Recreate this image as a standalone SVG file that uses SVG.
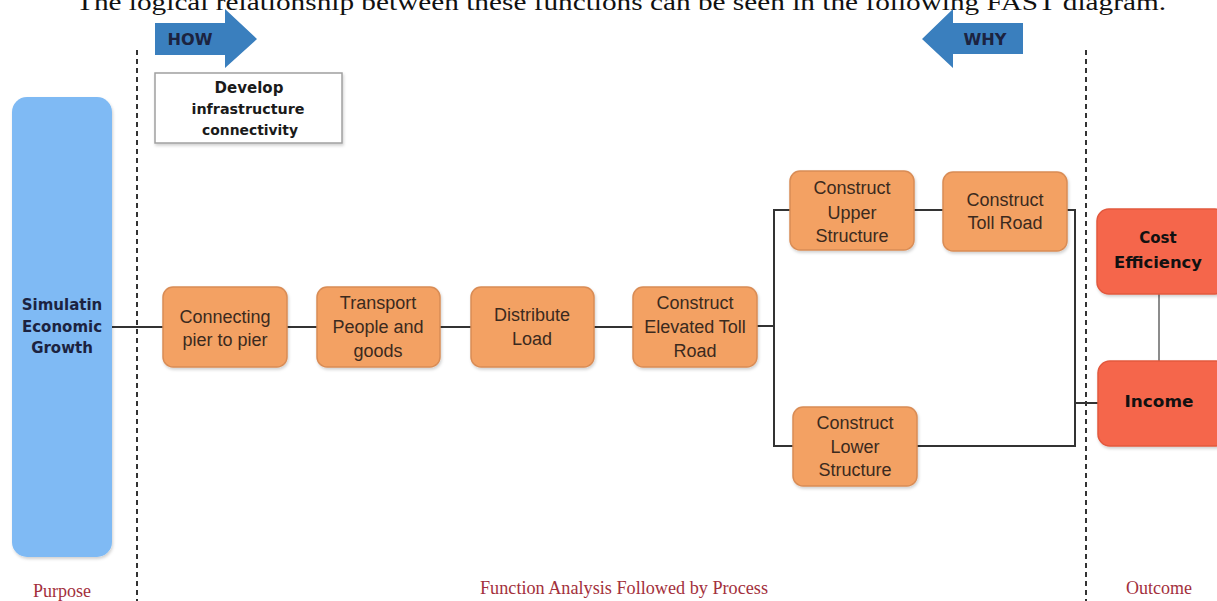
<svg xmlns="http://www.w3.org/2000/svg" width="1217" height="601" viewBox="0 0 1217 601">
  <style>
    .caption { font-family: "Liberation Serif", "Times New Roman", serif; fill: #111; font-size: 24px; }
    .zone { font-family: "Liberation Serif", "Times New Roman", serif; fill: #a3303c; font-size: 18px; text-anchor: middle; }
    .func rect { fill: #f3a163; stroke: #d98c55; stroke-width: 1.5; }
    .func text { font-family: "Liberation Sans", Arial, sans-serif; font-size: 18px; fill: #3b2a1e; text-anchor: middle; }
    .bold { font-family: "DejaVu Sans", "Noto Sans", sans-serif; font-weight: bold; text-anchor: middle; }
    .goal rect { fill: #f5664b; stroke: #e2583e; stroke-width: 1.5; }
    .goal text { fill: #111; font-size: 15px; }
    .wire { fill: none; stroke: #333; stroke-width: 2; }
    .divider { stroke: #333; stroke-width: 2; stroke-dasharray: 5 4; }
    .arrow { fill: #3a7fbe; }
  </style>
  <defs>
    <filter id="shadow" x="-10%" y="-10%" width="130%" height="130%">
      <feDropShadow dx="1" dy="2" stdDeviation="1.5" flood-color="#000" flood-opacity="0.18"/>
    </filter>
  </defs>

  <rect width="1217" height="601" fill="#fff"/>

  <!-- introductory sentence above the chart -->
  <text class="caption" x="76" y="10" textLength="1090" lengthAdjust="spacingAndGlyphs">The logical relationship between these functions can be seen in the following FAST diagram.</text>

  <!-- scope dividers -->
  <line class="divider" x1="137" y1="50" x2="137" y2="601"/>
  <line class="divider" x1="1086" y1="50" x2="1086" y2="601"/>

  <!-- direction arrows -->
  <g id="how-arrow">
    <polygon class="arrow" points="155,23 225,23 225,9 257,39 225,68 225,55 155,55"/>
    <text class="bold" x="190" y="45" font-size="16" fill="#1c2340" textLength="45" lengthAdjust="spacingAndGlyphs">HOW</text>
  </g>
  <g id="why-arrow">
    <polygon class="arrow" points="1023,23 953,23 953,9 922,39 953,68 953,54 1023,54"/>
    <text class="bold" x="985" y="45" font-size="16" fill="#1c2340" textLength="43" lengthAdjust="spacingAndGlyphs">WHY</text>
  </g>

  <!-- connectors -->
  <g id="connectors">
    <path class="wire" d="M112,327 H163"/>
    <path class="wire" d="M287,327 H317"/>
    <path class="wire" d="M440,327 H471"/>
    <path class="wire" d="M594,327 H633"/>
    <path class="wire" d="M757,326 H774"/>
    <path class="wire" d="M790,210 H774 V446 H793"/>
    <path class="wire" d="M914,210 H943"/>
    <path class="wire" d="M1067,210 H1075 V446 H917"/>
    <path class="wire" d="M1075,403 H1098"/>
    <path d="M1159,294 V361" fill="none" stroke="#666" stroke-width="1.5"/>
  </g>

  <!-- higher-order purpose -->
  <g id="purpose">
    <rect x="12" y="97" width="100" height="460" rx="15" fill="#7fbaf4" filter="url(#shadow)"/>
    <text class="bold" x="62" y="310" font-size="15" fill="#1c2340">Simulatin</text>
    <text class="bold" x="62" y="332" font-size="15" fill="#1c2340">Economic</text>
    <text class="bold" x="62" y="353" font-size="15" fill="#1c2340">Growth</text>
  </g>

  <!-- basic function -->
  <g id="basic-function">
    <rect x="155" y="73" width="187" height="70" fill="#fff" stroke="#a0a0a0" stroke-width="1.5" filter="url(#shadow)"/>
    <text class="bold" x="249" y="93" font-size="15" fill="#1a1a1a">Develop</text>
    <text class="bold" x="248" y="114" font-size="14.5" fill="#1a1a1a" textLength="113" lengthAdjust="spacingAndGlyphs">infrastructure</text>
    <text class="bold" x="250" y="135" font-size="14.5" fill="#1a1a1a" textLength="96" lengthAdjust="spacingAndGlyphs">connectivity</text>
  </g>

  <!-- function chain -->
  <g id="connecting" class="func">
    <rect x="163" y="287" width="124" height="80" rx="10" filter="url(#shadow)"/>
    <text x="225" y="323">Connecting</text>
    <text x="225" y="346">pier to pier</text>
  </g>
  <g id="transport" class="func">
    <rect x="317" y="287" width="123" height="80" rx="10" filter="url(#shadow)"/>
    <text x="378" y="309">Transport</text>
    <text x="378" y="333">People and</text>
    <text x="378" y="357">goods</text>
  </g>
  <g id="distribute" class="func">
    <rect x="471" y="287" width="123" height="80" rx="10" filter="url(#shadow)"/>
    <text x="532" y="321">Distribute</text>
    <text x="532" y="345">Load</text>
  </g>
  <g id="elevated" class="func">
    <rect x="633" y="287" width="124" height="80" rx="10" filter="url(#shadow)"/>
    <text x="695" y="309">Construct</text>
    <text x="695" y="333">Elevated Toll</text>
    <text x="695" y="357">Road</text>
  </g>
  <g id="upper" class="func">
    <rect x="790" y="171" width="124" height="79" rx="10" filter="url(#shadow)"/>
    <text x="852" y="194">Construct</text>
    <text x="852" y="219">Upper</text>
    <text x="852" y="242">Structure</text>
  </g>
  <g id="toll-road" class="func">
    <rect x="943" y="172" width="124" height="79" rx="10" filter="url(#shadow)"/>
    <text x="1005" y="206">Construct</text>
    <text x="1005" y="229">Toll Road</text>
  </g>
  <g id="lower" class="func">
    <rect x="793" y="407" width="124" height="79" rx="10" filter="url(#shadow)"/>
    <text x="855" y="429">Construct</text>
    <text x="855" y="453">Lower</text>
    <text x="855" y="476">Structure</text>
  </g>

  <!-- outcomes -->
  <g id="cost-efficiency" class="goal">
    <rect x="1097" y="209" width="130" height="85" rx="12" filter="url(#shadow)"/>
    <text class="bold" x="1158" y="243">Cost</text>
    <text class="bold" x="1158" y="268" textLength="88" lengthAdjust="spacingAndGlyphs">Efficiency</text>
  </g>
  <g id="income" class="goal">
    <rect x="1098" y="361" width="130" height="85" rx="12" filter="url(#shadow)"/>
    <text class="bold" x="1159" y="407" textLength="69" lengthAdjust="spacingAndGlyphs">Income</text>
  </g>

  <!-- zone labels -->
  <text class="zone" x="62" y="597">Purpose</text>
  <text class="zone" x="624" y="594" textLength="288" lengthAdjust="spacingAndGlyphs">Function Analysis Followed by Process</text>
  <text class="zone" x="1159" y="594">Outcome</text>
</svg>
